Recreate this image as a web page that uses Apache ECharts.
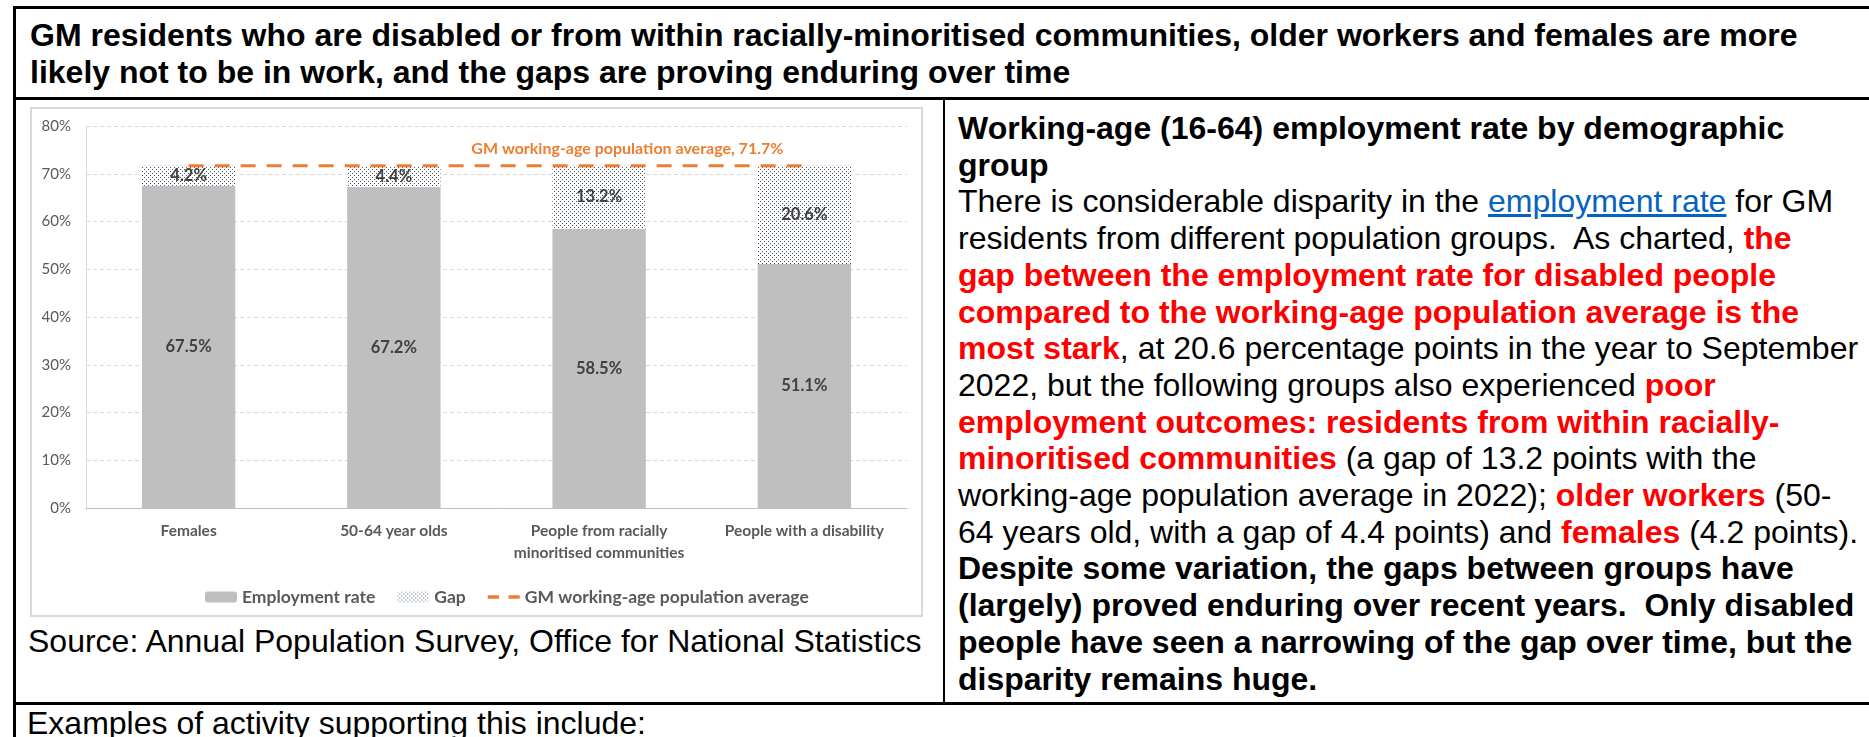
<!DOCTYPE html>
<html>
<head>
<meta charset="utf-8">
<script src="https://cdn.jsdelivr.net/npm/echarts@6/dist/echarts.min.js"></script>
<style>
  html, body { margin: 0; padding: 0; background: #fff; width: 1869px; height: 737px; overflow: hidden; }
  body { position: relative; font-family: "Liberation Sans", Arial, sans-serif; color: #000; }
  .rule { position: absolute; background: #000; }
  .txt { position: absolute; font-size: 32px; white-space: nowrap; }
  .b { font-weight: bold; }
  .red { color: #f00; font-weight: bold; }
  a { color: #0563C1; text-decoration: underline; }
  #frame { position: absolute; left: 30px; top: 107px; width: 893px; height: 510px; box-sizing: border-box; border: 2px solid #D9D9D9; }
  #chart { width: 889px; height: 506px; }
</style>
</head>
<body>
  <!-- table rules -->
  <div class="rule" style="left:13px; top:6px; width:1856px; height:3px;"></div>
  <div class="rule" style="left:13px; top:6px; width:3px; height:731px;"></div>
  <div class="rule" style="left:13px; top:97px; width:1856px; height:3px;"></div>
  <div class="rule" style="left:943px; top:97px; width:2px; height:607px;"></div>
  <div class="rule" style="left:13px; top:702px; width:1856px; height:3px;"></div>

  <div class="txt b" style="left:30px; top:17px; line-height:37px;">GM residents who are disabled or from within racially-minoritised communities, older workers and females are more<br>likely not to be in work, and the gaps are proving enduring over time</div>

  <div id="frame"><div id="chart"></div></div>

  <div class="txt" style="left:28px; top:623px; line-height:36.8px;">Source: Annual Population Survey, Office for National Statistics</div>

  <div class="txt" style="left:958px; top:110px; line-height:36.7px;"><span class="b">Working-age (16-64) employment rate by demographic<br>group</span><br>There is considerable disparity in the <a>employment rate</a> for GM<br>residents from different population groups.&nbsp; As charted, <span class="red">the<br>gap between the employment rate for disabled people<br>compared to the working-age population average is the<br>most stark</span>, at 20.6 percentage points in the year to September<br>2022, but the following groups also experienced <span class="red">poor<br>employment outcomes: residents from within racially-<br>minoritised communities</span> (a gap of 13.2 points with the<br>working-age population average in 2022); <span class="red">older workers</span> (50-<br>64 years old, with a gap of 4.4 points) and <span class="red">females</span> (4.2 points).<br><span class="b">Despite some variation, the gaps between groups have<br>(largely) proved enduring over recent years.&nbsp; Only disabled<br>people have seen a narrowing of the gap over time, but the<br>disparity remains huge.</span></div>

  <div class="txt" style="left:27px; top:705px; line-height:36.8px;">Examples of activity supporting this include:</div>

<script>
// Employment rate (16-64) by demographic group, GM, year to September 2022
const categories = ['Females', '50-64 year olds', 'People from racially\nminoritised communities', 'People with a disability'];
const employmentRate = [67.5, 67.2, 58.5, 51.1];
const gapToAverage = [4.2, 4.4, 13.2, 20.6];
const gmAverage = [71.7, 71.7, 71.7, 71.7];
const seriesNames = ['Employment rate', 'Gap', 'GM working-age population average'];
const yAxisMin = 0, yAxisMax = 80, yAxisStep = 10;

// dotted fill for the gap segments
function dotPattern() {
  const c = document.createElement('canvas');
  c.width = 4; c.height = 4;
  const g = c.getContext('2d');
  g.fillStyle = '#ffffff';
  g.fillRect(0, 0, 4, 4);
  g.fillStyle = '#44546A';
  g.fillRect(0, 0, 1, 1);
  g.fillRect(2, 2, 1, 1);
  return c;
}

const chartFont = 'Lato, "Open Sans", sans-serif';
const pct = v => v.toFixed(1) + '%';
const legendText = { fontFamily: chartFont, fontWeight: 'bold', fontSize: 17.5, color: '#595959' };
const valueLabel = { fontFamily: chartFont, fontWeight: 'bold', fontSize: 16.5, color: '#404040' };
// two short dashes for the average line's legend key
const dashKey = 'path://M0,0H9.5V3H0Z M17.5,0H27V3H17.5Z';

const chart = echarts.init(document.getElementById('chart'), null, { renderer: 'canvas' });
chart.setOption({
  animation: false,
  textStyle: { fontFamily: chartFont },
  grid: { left: 54, right: 14, top: 17, bottom: 107 },
  legend: {
    left: 173, top: 479, padding: 0,
    itemWidth: 32, itemHeight: 11, itemGap: 22,
    textStyle: legendText,
    data: [
      { name: seriesNames[0], textStyle: legendText },
      { name: seriesNames[1], textStyle: legendText },
      { name: seriesNames[2], textStyle: legendText, icon: dashKey, symbolKeepAspect: true, itemStyle: { color: '#ED7D31' } }
    ]
  },
  xAxis: {
    type: 'category',
    data: categories,
    axisTick: { show: false },
    axisLine: { lineStyle: { color: '#BFBFBF', width: 1 } },
    axisLabel: { interval: 0, fontFamily: chartFont, fontWeight: 'bold', fontSize: 15.5, color: '#595959', lineHeight: 22, margin: 12 }
  },
  yAxis: {
    type: 'value',
    min: yAxisMin, max: yAxisMax, interval: yAxisStep,
    axisLine: { show: true, lineStyle: { color: '#D9D9D9' } },
    axisTick: { show: false },
    splitLine: { lineStyle: { color: '#D9D9D9', type: [4, 3], width: 1 } },
    axisLabel: { formatter: '{value}%', fontFamily: chartFont, fontSize: 15, color: '#595959', margin: 15 }
  },
  series: [
    {
      name: seriesNames[0], type: 'bar', stack: 'rate',
      data: employmentRate,
      barCategoryGap: '54.5%',
      itemStyle: { color: '#BFBFBF' },
      label: Object.assign({ show: true, position: 'inside', formatter: p => pct(p.value) }, valueLabel)
    },
    {
      name: seriesNames[1], type: 'bar', stack: 'rate',
      data: gapToAverage,
      itemStyle: { color: { image: dotPattern(), repeat: 'repeat' } },
      label: Object.assign({ show: true, position: 'inside', formatter: p => pct(p.value) }, valueLabel)
    },
    {
      name: seriesNames[2], type: 'line',
      symbol: 'none', z: 5,
      lineStyle: { color: '#ED7D31', width: 3, type: [15, 11] },
      itemStyle: { color: '#ED7D31' },
      data: gmAverage,
      endLabel: {
        show: true, align: 'right', verticalAlign: 'middle', offset: [-29, -17],
        formatter: p => 'GM working-age population average, ' + pct(p.value),
        fontFamily: chartFont, fontWeight: 'bold', fontSize: 16, color: '#ED7D31'
      }
    }
  ]
});
</script>
</body>
</html>
